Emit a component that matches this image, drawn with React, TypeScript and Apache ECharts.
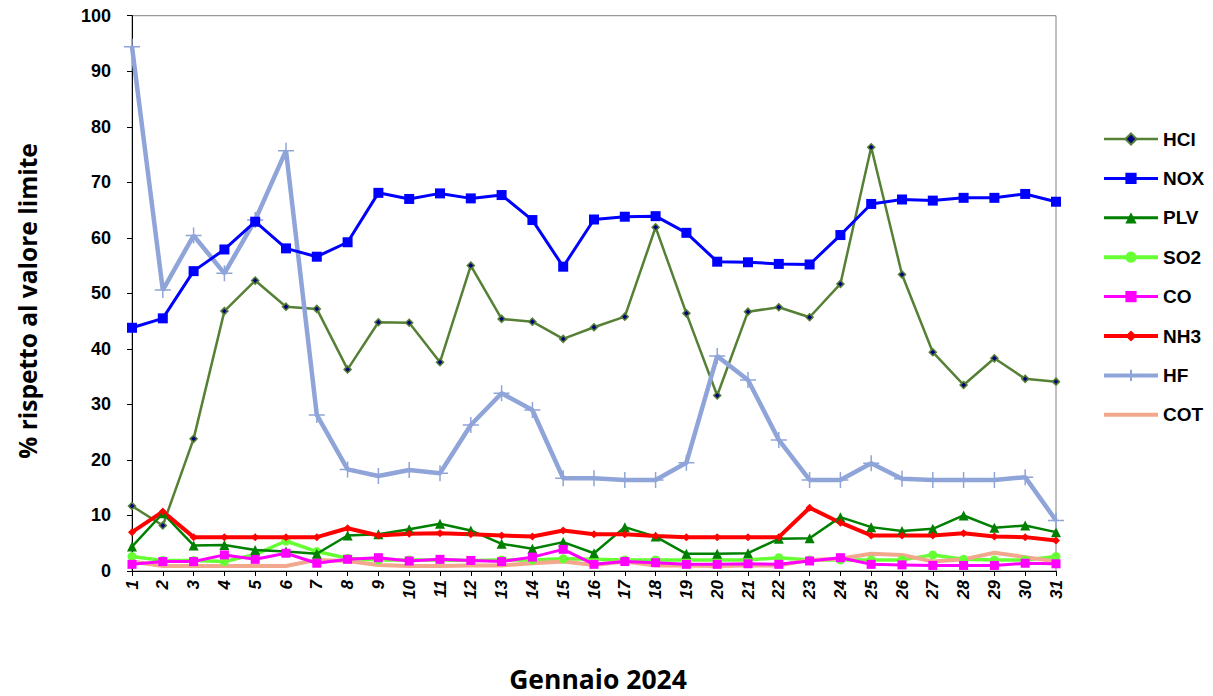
import React, { useEffect, useRef } from "react";
import * as echarts from "echarts";

const days = Array.from({ length: 31 }, (_, i) => String(i + 1));

const hcl = [11.7, 8.2, 23.8, 46.8, 52.3, 47.6, 47.2, 36.3, 44.8, 44.7, 37.6, 55.0, 45.4, 44.9, 41.8, 43.9, 45.8, 61.9, 46.4, 31.6, 46.7, 47.5, 45.7, 51.7, 76.3, 53.4, 39.4, 33.5, 38.3, 34.6, 34.1];
const nox = [43.8, 45.5, 54.0, 57.9, 62.9, 58.1, 56.6, 59.2, 68.1, 67.0, 68.0, 67.1, 67.7, 63.2, 54.8, 63.3, 63.8, 63.9, 60.9, 55.7, 55.6, 55.3, 55.2, 60.5, 66.1, 66.9, 66.7, 67.2, 67.2, 67.9, 66.5];
const plv = [4.4, 10.4, 4.6, 4.7, 3.8, 3.5, 3.1, 6.4, 6.6, 7.5, 8.5, 7.3, 4.9, 4.0, 5.2, 3.2, 7.9, 6.2, 3.1, 3.1, 3.2, 5.8, 5.9, 9.7, 7.9, 7.2, 7.6, 10.0, 7.8, 8.2, 7.0];
const so2 = [2.6, 1.9, 1.9, 1.7, 3.0, 5.4, 3.5, 2.3, 2.0, 2.0, 2.0, 1.9, 2.0, 2.0, 2.2, 2.1, 2.0, 2.0, 2.0, 2.0, 2.0, 2.4, 2.0, 2.0, 2.0, 2.0, 2.9, 2.1, 2.0, 2.0, 2.6];
const co = [1.2, 1.7, 1.7, 2.9, 2.1, 3.2, 1.4, 2.1, 2.4, 1.8, 2.1, 1.9, 1.7, 2.5, 3.9, 1.2, 1.7, 1.5, 1.2, 1.2, 1.3, 1.2, 1.8, 2.4, 1.2, 1.1, 1.0, 1.0, 1.0, 1.4, 1.3];
const nh3 = [7.0, 10.7, 6.1, 6.1, 6.1, 6.1, 6.1, 7.7, 6.4, 6.7, 6.8, 6.6, 6.4, 6.2, 7.3, 6.6, 6.6, 6.3, 6.1, 6.1, 6.1, 6.1, 11.4, 8.7, 6.4, 6.4, 6.4, 6.8, 6.2, 6.1, 5.5];
const hf = [94.4, 50.6, 60.4, 53.6, 63.2, 75.7, 28.1, 18.3, 17.1, 18.2, 17.6, 26.3, 32.0, 29.0, 16.7, 16.7, 16.4, 16.4, 19.5, 38.7, 34.4, 23.6, 16.4, 16.4, 19.4, 16.6, 16.4, 16.4, 16.4, 16.9, 9.1];
const cot = [1.7, 0.9, 0.9, 0.9, 0.9, 0.9, 2.0, 1.8, 1.1, 0.9, 0.9, 1.0, 1.0, 1.4, 1.7, 1.1, 1.7, 1.0, 1.0, 0.9, 1.0, 1.0, 2.0, 2.2, 3.1, 2.9, 1.7, 2.1, 3.3, 2.5, 1.7];

const yTicks = [0, 10, 20, 30, 40, 50, 60, 70, 80, 90, 100];
const xTitle = "Gennaio 2024";
const yTitle = "% rispetto al valore limite";

const plusPath = "path://M0,10L20,10M10,0L10,20";

export default function App() {
  const ref = useRef<HTMLDivElement>(null);
  useEffect(() => {
    if (!ref.current) return;
    const chart = echarts.init(ref.current, undefined, { renderer: "svg" });
    const mk = (
      name: string,
      data: number[],
      color: string,
      width: number,
      symbol: string,
      size: number,
      extra: any = {}
    ) => ({
      name,
      type: "line",
      data,
      symbol,
      symbolSize: size,
      showSymbol: symbol !== "none",
      lineStyle: { color, width },
      itemStyle: { color, ...(extra.itemStyle || {}) },
      z: extra.z ?? 2,
    });
    const titleFont = {
      fontFamily: "Open Sans",
      fontWeight: "bold",
      fill: "#000",
      align: "center",
      verticalAlign: "middle",
    };
    chart.setOption({
      animation: false,
      backgroundColor: "#ffffff",
      grid: {
        left: 132,
        right: 157,
        top: 15.7,
        bottom: 125,
        show: true,
        borderColor: "#808080",
        borderWidth: 1,
        containLabel: false,
        outerBoundsMode: "none",
      },
      graphic: [
        {
          type: "text",
          x: 598,
          y: 679,
          style: { ...titleFont, text: xTitle, fontSize: 26.5, lineHeight: 28 },
        },
        {
          type: "text",
          x: 27,
          y: 301,
          rotation: Math.PI / 2,
          style: { ...titleFont, text: yTitle, fontSize: 24.5, lineHeight: 28 },
        },
      ],
      legend: {
        orient: "vertical",
        left: 1097,
        top: 124,
        itemWidth: 54,
        itemHeight: 14,
        itemGap: 19.4,
        textStyle: {
          fontFamily: "Liberation Sans, Arial",
          fontWeight: "bold",
          fontSize: 19,
          lineHeight: 20,
          color: "#000",
        },
        data: [
          { name: "HCl", lineStyle: { width: 2.5 } },
          { name: "NOX", lineStyle: { width: 3 } },
          { name: "PLV", lineStyle: { width: 3 } },
          { name: "SO2", lineStyle: { width: 4 } },
          { name: "CO", lineStyle: { width: 3 } },
          { name: "NH3", lineStyle: { width: 4 } },
          { name: "HF", lineStyle: { width: 4 } },
          { name: "COT", lineStyle: { width: 4 }, itemStyle: { opacity: 0 } },
        ],
      },
      xAxis: {
        type: "category",
        data: days,
        boundaryGap: false,
        axisLine: { lineStyle: { color: "#000", width: 1 } },
        axisTick: { alignWithLabel: true, length: 5, lineStyle: { color: "#000" } },
        axisLabel: {
          rotate: 90,
          margin: 9,
          fontFamily: "Liberation Sans, Arial",
          fontWeight: "bold",
          fontStyle: "italic",
          fontSize: 17,
          color: "#000",
        },
      },
      yAxis: {
        type: "value",
        min: 0,
        max: 100,
        interval: 10,
        splitLine: { show: false },
        axisLine: { show: true, lineStyle: { color: "#000", width: 1 } },
        axisTick: { show: true, length: 5, lineStyle: { color: "#000" } },
        axisLabel: {
          margin: 21,
          fontFamily: "Liberation Sans, Arial",
          fontWeight: "bold",
          fontSize: 18,
          color: "#000",
          formatter: (v: number) => (yTicks.includes(v) ? String(v) : ""),
        },
      },
      series: [
        mk("HCl", hcl, "#558035", 2.5, "diamond", 7, {
          itemStyle: { color: "#000080", borderColor: "#558035", borderWidth: 1.5 },
          z: 3,
        }),
        mk("NOX", nox, "#0000FF", 3, "rect", 10, { z: 4 }),
        mk("PLV", plv, "#008000", 2.5, "triangle", 10, { z: 3 }),
        mk("SO2", so2, "#66FF33", 3.5, "circle", 9, { z: 2 }),
        mk("CO", co, "#FF00FF", 3, "rect", 9, { z: 3 }),
        mk("NH3", nh3, "#FF0000", 4, "diamond", 8, { z: 3 }),
        mk("HF", hf, "#8FA4D8", 4.5, plusPath, 16, {
          itemStyle: { color: "#8FA4D8", borderColor: "#8FA4D8", borderWidth: 1.5 },
          z: 3,
        }),
        mk("COT", cot, "#F2A88C", 4, "none", 0, { z: 2 }),
      ],
    });
    return () => chart.dispose();
  }, []);
  return (
    <div
      ref={ref}
      style={{ position: "fixed", left: 0, top: 0, width: 1213, height: 696 }}
    />
  );
}
